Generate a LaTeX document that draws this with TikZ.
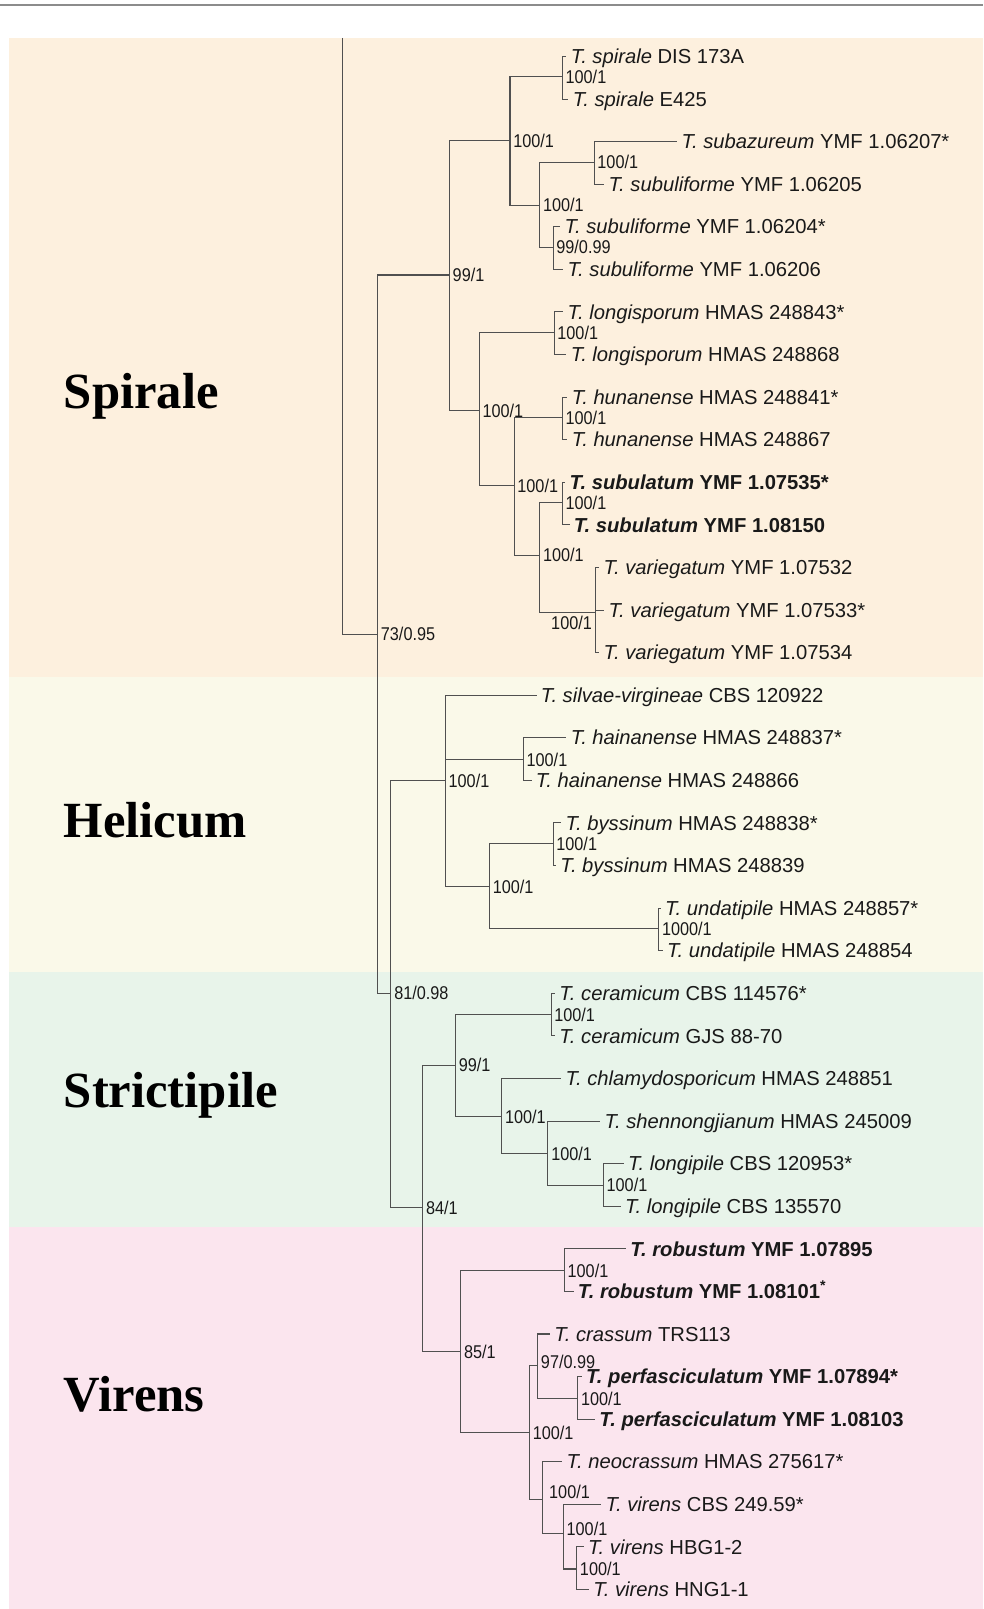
\documentclass[tikz,border=0pt]{standalone}
\usepackage{fontspec}
\setmainfont{Liberation Sans}
\newfontfamily\cladefont{Liberation Serif}
\newfontfamily\supfont[FakeStretch=0.88]{Liberation Sans}
\usepackage{tikz}
\definecolor{SpiraleBg}{RGB}{253,240,222}
\definecolor{HelicumBg}{RGB}{250,249,233}
\definecolor{StrictipileBg}{RGB}{232,244,234}
\definecolor{VirensBg}{RGB}{251,229,238}
\definecolor{TreeGray}{RGB}{80,80,80}
\definecolor{TopRule}{RGB}{140,140,140}

\begin{document}
\begin{tikzpicture}[x=1pt,y=-1pt,
  br/.style={draw=TreeGray,line width=1pt},
  tx/.style={anchor=west,inner xsep=4pt,inner ysep=0pt,text height=14pt,text depth=0pt,text=black!90,font=\fontsize{19.7}{22}\selectfont},
  bsup/.style={anchor=west,inner xsep=3pt,inner ysep=0pt,text height=13pt,text depth=0pt,text=black!90,font=\supfont\fontsize{18}{20}\selectfont},
  bsupl/.style={bsup,anchor=east,yshift=-10pt},
  bsupu/.style={bsup,xshift=3pt,yshift=7pt},
  bsuph/.style={bsup,yshift=4pt},
  clade/.style={anchor=base west,inner sep=0pt,text=black,font=\cladefont\bfseries\fontsize{49.4}{52}\selectfont}]
\useasboundingbox (0,0) rectangle (958,1568);
\draw[TopRule,line width=2pt] (0,5) -- (958,5);
\foreach \c/\ya/\yb in %
{SpiraleBg/37/660,HelicumBg/660/947,StrictipileBg/947/1196,VirensBg/1196/1568} {
   \fill[\c] (9,\ya) rectangle (958,\yb);
}
\node[clade] (spirale) at (62,398) {Spirale};
\node[clade] (helicum) at (62,816) {Helicum};
\node[clade] (strictipile) at (62,1079) {Strictipile};
\node[clade] (virens) at (62,1376) {Virens};
% inner nodes: name/x/y/parent/support
\coordinate (top) at (334,37);
\foreach \n/\x/\y/\p/\a/\b/\o in %
{A/368/618/top/73/0.95/bsup,
 Sp/438/268/A/99/1/bsup,
 S1/497/137/Sp/100/1/bsup,
 spi/548/75/S1/100/1/bsup,
 S1b/526/200/S1/100/1/bsup,
 sbz/579/158/S1b/100/1/bsup,
 sbf/539/241/S1b/99/0.99/bsup,
 S2/467/400/Sp/100/1/bsup,
 lgs/540/324/S2/100/1/bsup,
 S3/501/473/S2/100/1/bsup,
 hun/548/407/S3/100/1/bsup,
 S4/526/541/S3/100/1/bsup,
 sul/548/490/S4/100/1/bsup,
 var/580/597/S4/100/1/bsupl,
 B/381/968/A/81/0.98/bsup,
 He/434/761/B/100/1/bsup,
 hai/510/740/He/100/1/bsup,
 H2/477/864/He/100/1/bsup,
 bys/539/822/H2/100/1/bsup,
 und/642/905/H2/1000/1/bsup,
 C/412/1177/B/84/1/bsup,
 St/444/1038/C/99/1/bsup,
 cer/537/989/St/100/1/bsup,
 St2/489/1088/St/100/1/bsup,
 St3/534/1124/St2/100/1/bsup,
 lpi/588/1155/St3/100/1/bsup,
 Vi/449/1317/C/85/1/bsup,
 rob/550/1238/Vi/100/1/bsup,
 V2/516/1396/Vi/100/1/bsup,
 V3/524/1331/V2/97/0.99/bsuph,
 per/563/1363/V3/100/1/bsup,
 V4/529/1461/V2/100/1/bsupu,
 V5/549/1494/V4/100/1/bsuph,
 vir/562/1529/V5/100/1/bsup} {
   \coordinate (\n) at (\x,\y);
   \draw[br] (\p) |- (\n);
   \node[\o] (\n-s) at (\n) {\a/\b};
}
% leaves: number/x/parent/label
\foreach \i/\x/\p/\txt in %
{1/552/spi/{\textit{T. spirale} DIS 173A},
 2/554/spi/{\textit{T. spirale} E425},
 3/660/sbz/{\textit{T. subazureum} YMF 1.06207*},
 4/589/sbz/{\textit{T. subuliforme} YMF 1.06205},
 5/546/sbf/{\textit{T. subuliforme} YMF 1.06204*},
 6/549/sbf/{\textit{T. subuliforme} YMF 1.06206},
 7/549/lgs/{\textit{T. longisporum} HMAS 248843*},
 8/552/lgs/{\textit{T. longisporum} HMAS 248868},
 9/553/hun/{\textit{T. hunanense} HMAS 248841*},
 10/553/hun/{\textit{T. hunanense} HMAS 248867},
 11/551/sul/{\bfseries\textit{T. subulatum} YMF 1.07535*},
 12/555/sul/{\bfseries\textit{T. subulatum} YMF 1.08150},
 13/584/var/{\textit{T. variegatum} YMF 1.07532},
 14/589/var/{\textit{T. variegatum} YMF 1.07533*},
 15/584/var/{\textit{T. variegatum} YMF 1.07534},
 16/523/He/{\textit{T. silvae-virgineae} CBS 120922},
 17/552/hai/{\textit{T. hainanense} HMAS 248837*},
 18/518/hai/{\textit{T. hainanense} HMAS 248866},
 19/547/bys/{\textit{T. byssinum} HMAS 248838*},
 20/542/bys/{\textit{T. byssinum} HMAS 248839},
 21/644/und/{\textit{T. undatipile} HMAS 248857*},
 22/646/und/{\textit{T. undatipile} HMAS 248854},
 23/541/cer/{\textit{T. ceramicum} CBS 114576*},
 24/541/cer/{\textit{T. ceramicum} GJS 88-70},
 25/547/St2/{\textit{T. chlamydosporicum} HMAS 248851},
 26/585/St3/{\textit{T. shennongjianum} HMAS 245009},
 27/608/lpi/{\textit{T. longipile} CBS 120953*},
 28/605/lpi/{\textit{T. longipile} CBS 135570},
 29/610/rob/{\bfseries\textit{T. robustum} YMF 1.07895},
 30/559/rob/{\bfseries\textit{T. robustum} YMF 1.08101\textsuperscript{*}},
 31/536/V3/{\textit{T. crassum} TRS113},
 32/567/per/{\bfseries\textit{T. perfasciculatum} YMF 1.07894*},
 33/580/per/{\bfseries\textit{T. perfasciculatum} YMF 1.08103},
 34/548/V4/{\textit{T. neocrassum} HMAS 275617*},
 35/586/V5/{\textit{T. virens} CBS 249.59*},
 36/569/vir/{\textit{T. virens} HBG1-2},
 37/574/vir/{\textit{T. virens} HNG1-1}} {
   \node[tx] (l\i) at (\x,{55+(\i-1)*41.5}) {\txt};
   \draw[br] (\p) |- (l\i.west);
}
\end{tikzpicture}
\end{document}
